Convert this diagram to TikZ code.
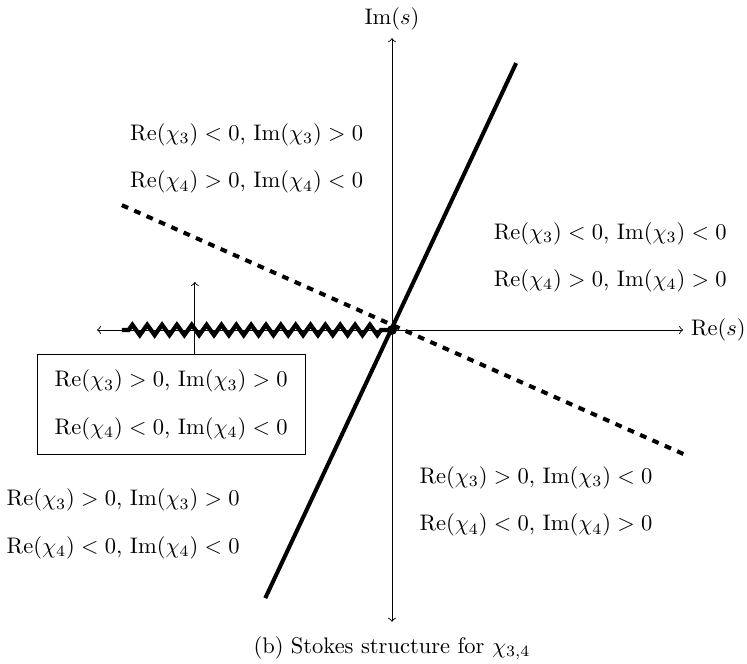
\documentclass[tikz,border=0pt]{standalone}
\usepackage{amsmath}
\usepackage{amssymb}
\usetikzlibrary{decorations.pathmorphing}

\begin{document}
\begin{tikzpicture}[
  region/.style={align=center,inner sep=1pt},
  stokes/.style={line width=1.8pt},
  antistokes/.style={line width=1.8pt,dashed},
  cut/.style={line width=1.9pt,decorate,decoration={zigzag,segment length=6.6pt,amplitude=2.3pt,pre length=3pt,post length=2pt}}]
  \useasboundingbox(-6.125,-5.219) rectangle (5.547,5.156);
  % axes
  \coordinate(O) at(0,0);
  \coordinate(W) at(-4.61,0);
  \coordinate(E) at(4.55,0);
  \coordinate(N) at(0,4.56);
  \coordinate(S) at(0,-4.56);
  \draw[->](O)--(E);
  \draw[->](O)--(W);
  \draw[->](O)--(N);
  \draw[->](O)--(S);
  \node[right](re) at(E){$\mathrm{Re}(s)$};
  \node[above](im) at(N){$\mathrm{Im}(s)$};
  % branch cut
  \coordinate(C) at(-4.22,0);
  \draw[cut](C)--(O);
  \fill(O) circle(2.2pt);
  % stokes and anti-stokes lines
  \coordinate(A1) at(-4.22,1.95);
  \coordinate(A2) at(4.58,-1.95);
  \coordinate(S1) at(-1.98,-4.19);
  \coordinate(S2) at(1.94,4.17);
  \draw[antistokes](A1)--(A2);
  \draw[stokes](S1)--(S2);
  % regions
  \node[region](tl) at(-2.27,2.68){$\mathrm{Re}(\chi_3)<0$, $\mathrm{Im}(\chi_3)>0$\\[9pt]$\mathrm{Re}(\chi_4)>0$, $\mathrm{Im}(\chi_4)<0$};
  \node[region](r) at(3.41,1.14){$\mathrm{Re}(\chi_3)<0$, $\mathrm{Im}(\chi_3)<0$\\[9pt]$\mathrm{Re}(\chi_4)>0$, $\mathrm{Im}(\chi_4)>0$};
  \node[region](br) at(2.25,-2.68){$\mathrm{Re}(\chi_3)>0$, $\mathrm{Im}(\chi_3)<0$\\[9pt]$\mathrm{Re}(\chi_4)<0$, $\mathrm{Im}(\chi_4)>0$};
  \node[region](bl) at(-4.20,-3.03){$\mathrm{Re}(\chi_3)>0$, $\mathrm{Im}(\chi_3)>0$\\[9pt]$\mathrm{Re}(\chi_4)<0$, $\mathrm{Im}(\chi_4)<0$};
  % sheet across the cut
  \node[region,draw,minimum width=4.19cm,minimum height=1.56cm](box) at(-3.45,-1.17){$\mathrm{Re}(\chi_3)>0$, $\mathrm{Im}(\chi_3)>0$\\[9pt]$\mathrm{Re}(\chi_4)<0$, $\mathrm{Im}(\chi_4)<0$};
  \coordinate(up) at(-3.08,0.75);
  \draw[->](box.north-|up)--(up);
  % caption
  \node(cap) at(0,-4.97){(b) Stokes structure for $\chi_{3,4}$};
\end{tikzpicture}
\end{document}
